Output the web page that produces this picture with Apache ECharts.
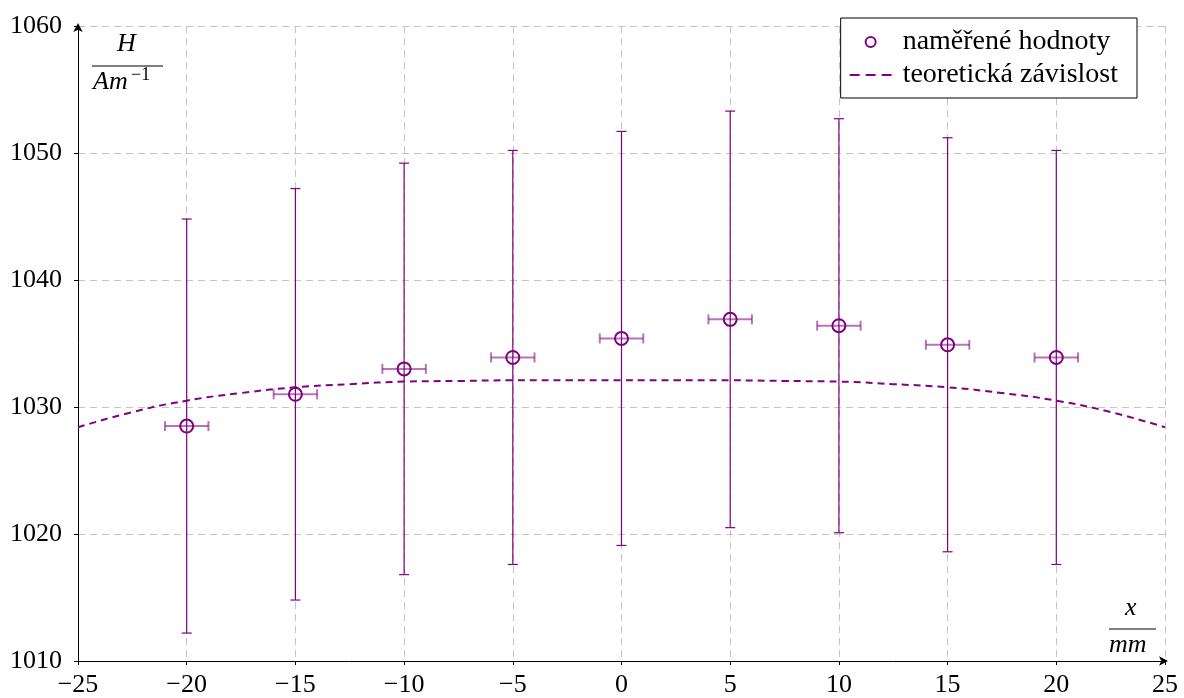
<!DOCTYPE html>
<html>
<head>
<meta charset="utf-8">
<script src="https://cdn.jsdelivr.net/npm/echarts@6/dist/echarts.min.js"></script>
<style>html,body{margin:0;padding:0;background:#fff}#c{width:1184px;height:698px}</style>
</head>
<body>
<div id="c"></div>
<script>
// measured values
var measX = [-20, -15, -10, -5, 0, 5, 10, 15, 20];
var measH = [1028.5, 1031.0, 1033.0, 1033.9, 1035.4, 1036.9, 1036.4, 1034.9, 1033.9];
var errH = [16.3, 16.2, 16.2, 16.3, 16.3, 16.4, 16.3, 16.3, 16.3];
var errX = [1, 1, 1, 1, 1, 1, 1, 1, 1];
// theoretical curve
var theoX = [-25, -22.5, -20, -17.5, -15, -12.5, -10, -7.5, -5, -2.5, 0, 2.5, 5, 7.5, 10, 12.5, 15, 17.5, 20, 22.5, 25];
var theoH = [1028.4, 1029.6, 1030.5, 1031.1, 1031.55, 1031.8, 1032.0, 1032.05, 1032.1, 1032.1, 1032.1, 1032.1, 1032.1, 1032.05, 1032.0, 1031.8, 1031.55, 1031.1, 1030.5, 1029.6, 1028.4];
var seriesNames = ['naměřené hodnoty', 'teoretická závislost'];

var PURPLE = '#800080';
var FONT = 'Liberation Serif';

var chart = echarts.init(document.getElementById('c'));
var errData = measX.map(function (x, i) { return [x, measH[i], errH[i], errX[i]]; });
var scatterData = measX.map(function (x, i) { return [x, measH[i]]; });
var lineData = theoX.map(function (x, i) { return [x, theoH[i]]; });

function fmt(v) { return String(v).replace('-', '\u2212'); }
var dashIcon = 'path://M0,4h10v2h-10z M16,4h10v2h-10z M32,4h10v2h-10z M0,0h0.01v0.01h-0.01z M0,10h0.01v0.01h-0.01z';

chart.setOption({
  animation: false,
  grid: { left: 78, right: 19, top: 26, bottom: 37 },
  xAxis: {
    type: 'value', min: -25, max: 25, interval: 5,
    axisLine: { show: true, onZero: false, lineStyle: { color: '#000', width: 1 }, symbol: ['none', 'arrow'], symbolSize: [7, 9], symbolOffset: [0, 3] },
    axisTick: { show: true, length: 4, lineStyle: { color: '#000' } },
    axisLabel: { color: '#000', fontFamily: FONT, fontSize: 26, margin: 11, formatter: fmt },
    splitLine: { show: true, lineStyle: { color: '#c4c4c4', type: [7, 5], width: 1 } }
  },
  yAxis: {
    type: 'value', min: 1010, max: 1060, interval: 10,
    axisLine: { show: true, onZero: false, lineStyle: { color: '#000', width: 1 }, symbol: ['none', 'arrow'], symbolSize: [7, 9], symbolOffset: [0, 3] },
    axisTick: { show: true, length: 4, lineStyle: { color: '#000' } },
    axisLabel: { color: '#000', fontFamily: FONT, fontSize: 26, margin: 16, formatter: function (v) { return String(v); } },
    splitLine: { show: true, lineStyle: { color: '#c4c4c4', type: [7, 5], width: 1 } }
  },
  legend: {
    right: 47, top: 18, orient: 'vertical',
    backgroundColor: '#fff', borderColor: '#000', borderWidth: 1, borderRadius: 0,
    padding: [10, 19, 9, 9], itemGap: 5, itemWidth: 42, itemHeight: 10,
    textStyle: { fontFamily: FONT, fontSize: 28, color: '#000', padding: [0, 0, 0, 6] },
    data: [
      { name: seriesNames[0], icon: 'circle', itemStyle: { color: 'rgba(0,0,0,0)', borderColor: PURPLE, borderWidth: 2 } },
      { name: seriesNames[1], icon: dashIcon, itemStyle: { color: PURPLE, borderWidth: 0 } }
    ]
  },
  series: [
    {
      name: 'err', type: 'custom', z: 3,
      data: errData,
      renderItem: function (params, api) {
        var x = api.value(0), y = api.value(1), ey = api.value(2), ex = api.value(3);
        var top = api.coord([x, y + ey]);
        var bot = api.coord([x, y - ey]);
        var left = api.coord([x - ex, y]);
        var right = api.coord([x + ex, y]);
        var c = 5;
        var vs = { stroke: PURPLE, lineWidth: 1.2 };
        var hs = { stroke: 'rgba(128,0,128,0.55)', lineWidth: 2 };
        return {
          type: 'group',
          children: [
            { type: 'line', shape: { x1: top[0], y1: top[1], x2: bot[0], y2: bot[1] }, style: vs },
            { type: 'line', shape: { x1: top[0] - c, y1: top[1], x2: top[0] + c, y2: top[1] }, style: vs },
            { type: 'line', shape: { x1: bot[0] - c, y1: bot[1], x2: bot[0] + c, y2: bot[1] }, style: vs },
            { type: 'line', shape: { x1: left[0], y1: left[1], x2: right[0], y2: right[1] }, style: hs },
            { type: 'line', shape: { x1: left[0], y1: left[1] - c, x2: left[0], y2: left[1] + c }, style: hs },
            { type: 'line', shape: { x1: right[0], y1: right[1] - c, x2: right[0], y2: right[1] + c }, style: hs }
          ]
        };
      }
    },
    {
      name: seriesNames[0], type: 'scatter', z: 4,
      symbol: 'circle', symbolSize: 13,
      itemStyle: { color: 'rgba(0,0,0,0)', borderColor: PURPLE, borderWidth: 2, opacity: 1 },
      data: scatterData
    },
    {
      name: seriesNames[1], type: 'line', z: 2, smooth: true,
      showSymbol: false, symbol: 'none',
      lineStyle: { color: PURPLE, width: 2, type: [7, 5] },
      itemStyle: { color: PURPLE },
      data: lineData
    }
  ],
  graphic: [
    { type: 'text', left: 117, top: 31, style: { text: 'H', fontFamily: FONT, fontStyle: 'italic', fontSize: 26, fill: '#000' } },
    { type: 'line', shape: { x1: 92, y1: 66, x2: 163, y2: 66 }, style: { stroke: '#000', lineWidth: 1 } },
    { type: 'text', left: 93, top: 69, style: { text: 'Am', fontFamily: FONT, fontStyle: 'italic', fontSize: 26, fill: '#000' } },
    { type: 'text', left: 131, top: 66, style: { text: '\u22121', fontFamily: FONT, fontSize: 18, fill: '#000' } },
    { type: 'text', left: 1125, top: 595, style: { text: 'x', fontFamily: FONT, fontStyle: 'italic', fontSize: 26, fill: '#000' } },
    { type: 'line', shape: { x1: 1109, y1: 629, x2: 1156, y2: 629 }, style: { stroke: '#000', lineWidth: 1 } },
    { type: 'text', left: 1109, top: 632, style: { text: 'mm', fontFamily: FONT, fontStyle: 'italic', fontSize: 26, fill: '#000' } }
  ]
});
</script>
</body>
</html>
